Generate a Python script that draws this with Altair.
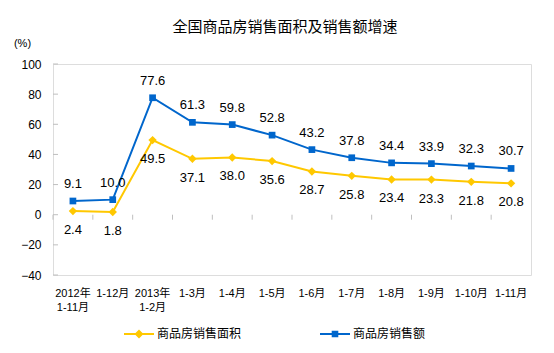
import altair as alt
import pandas as pd

categories = ["2012年\n1-11月", "1-12月", "2013年\n1-2月", "1-3月", "1-4月", "1-5月",
              "1-6月", "1-7月", "1-8月", "1-9月", "1-10月", "1-11月"]
area_growth = [2.4, 1.8, 49.5, 37.1, 38.0, 35.6, 28.7, 25.8, 23.4, 23.3, 21.8, 20.8]
sales_growth = [9.1, 10.0, 77.6, 61.3, 59.8, 52.8, 43.2, 37.8, 34.4, 33.9, 32.3, 30.7]
series_names = ["商品房销售面积", "商品房销售额"]
colors = ["#FFC800", "#0066CC"]
y_ticks = [-40, -20, 0, 20, 40, 60, 80, 100]

rows = []
for c, a, s in zip(categories, area_growth, sales_growth):
    rows.append({"cat": c, "series": series_names[0], "value": a})
    rows.append({"cat": c, "series": series_names[1], "value": s})
df = pd.DataFrame(rows)
df_cats = pd.DataFrame({"cat": categories})
df_yt = pd.DataFrame({"value": y_ticks})

W, H = 478, 211
FONT = "Liberation Sans, Noto Sans CJK SC"
GRAY = "#BFBFBF"

x_scale = alt.Scale(paddingInner=0, paddingOuter=0)
y_scale = alt.Scale(domain=[-40, 100], nice=False, zero=False)

x_axis = alt.Axis(orient="bottom", title=None, ticks=False, domain=False, labelAngle=0,
                  labelExpr="split(datum.label, '\\n')", labelFont=FONT,
                  labelFontSize=11, labelColor="#000", labelPadding=18,
                  labelLineHeight=14, labelBaseline="middle")
y_axis = alt.Axis(orient="left", values=y_ticks, ticks=False, grid=False, domain=False,
                  labelOverlap=False, labelFont=FONT, labelFontSize=12,
                  labelColor="#000", labelPadding=12, title="(%)", titleAngle=0,
                  titleFont=FONT, titleFontSize=11, titleFontWeight="normal",
                  titleX=-31, titleY=-21, titleAlign="center", titleBaseline="middle")
x_enc = alt.X("cat:N", sort=categories, scale=x_scale, axis=x_axis)
y_enc = alt.Y("value:Q", scale=y_scale, axis=y_axis)
color_scale = alt.Scale(domain=series_names, range=colors)

base = alt.Chart(df)

lines = base.mark_line(strokeWidth=2).encode(
    x=x_enc, y=y_enc,
    color=alt.Color("series:N", scale=color_scale, legend=None),
    detail="series:N")

zero_line = base.mark_rule(color=GRAY, strokeWidth=1).encode(
    x=x_enc, y=alt.datum(0, scale=y_scale, axis=y_axis))

x_ticks = alt.Chart(df_cats).mark_rule(color=GRAY, strokeWidth=1, y2Offset=5).encode(
    x=alt.X("cat:N", sort=categories, scale=x_scale, axis=x_axis, bandPosition=0),
    y=alt.datum(0, scale=y_scale, axis=y_axis),
    y2=alt.datum(0))

y_tick_marks = alt.Chart(df_yt).mark_rule(color=GRAY, strokeWidth=1, x2Offset=5).encode(
    x=alt.value(0), x2=alt.value(0), y=alt.Y("value:Q", scale=y_scale, axis=y_axis))

pts_area = base.transform_filter(alt.datum.series == series_names[0]).mark_point(
    filled=True, shape="diamond", size=70, opacity=1).encode(
    x=x_enc, y=y_enc, color=alt.Color("series:N", scale=color_scale, legend=None))
pts_sales = base.transform_filter(alt.datum.series == series_names[1]).mark_point(
    filled=True, shape="square", size=45, opacity=1).encode(
    x=x_enc, y=y_enc, color=alt.Color("series:N", scale=color_scale, legend=None))

lbl_area = base.transform_filter(alt.datum.series == series_names[0]).mark_text(
    dy=19, font=FONT, fontSize=13, color="#000").encode(
    x=x_enc, y=y_enc, text=alt.Text("value:Q", format=".1f"))
lbl_sales = base.transform_filter(alt.datum.series == series_names[1]).mark_text(
    dy=-17, font=FONT, fontSize=13, color="#000").encode(
    x=x_enc, y=y_enc, text=alt.Text("value:Q", format=".1f"))

legend_paths = [
    "M-1,-0.07H1V0.07H-1Z M0,-0.3L0.3,0L0,0.3L-0.3,0Z",
    "M-1,-0.07H1V0.07H-1Z M-0.22,-0.22H0.22V0.22H-0.22Z",
]
legend_layer = base.mark_point(filled=True, opacity=0).encode(
    x=x_enc, y=y_enc,
    shape=alt.Shape("series:N", scale=alt.Scale(domain=series_names, range=legend_paths),
                    legend=alt.Legend(title=None, orient="none", direction="horizontal",
                                      columns=2, legendX=71, legendY=255, symbolSize=900,
                                      symbolOpacity=1, symbolStrokeWidth=0,
                                      labelFont="Noto Sans CJK SC", labelFontSize=12,
                                      labelColor="#000", labelOffset=3, columnPadding=78)),
    fill=alt.Fill("series:N", scale=color_scale, legend=None))

chart = alt.layer(lines, zero_line, x_ticks, y_tick_marks, pts_area, pts_sales, lbl_area,
                  lbl_sales, legend_layer).resolve_scale(
    shape="independent", fill="independent").properties(
    width=W, height=H,
    autosize=alt.AutoSizeParams(type="none"),
    padding={"left": 53, "top": 64, "right": 23, "bottom": 78},
    title=alt.TitleParams("全国商品房销售面积及销售额增速", font="Noto Sans CJK SC", fontSize=15,
                          fontWeight="normal", color="#000", anchor="middle", dx=-7, offset=2),
).configure_view(stroke=GRAY, strokeWidth=1).configure(background="white")

chart.save("out.html", embed_options={"renderer": "svg", "actions": False})
